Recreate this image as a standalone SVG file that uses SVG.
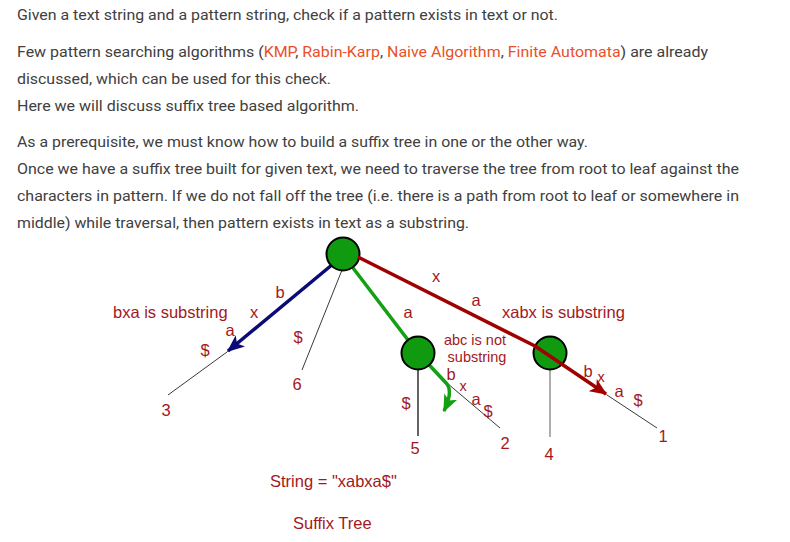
<svg xmlns="http://www.w3.org/2000/svg" width="790" height="542" viewBox="0 0 790 542">
<defs>
<style>
.p{font-family:Roboto,"Liberation Sans",sans-serif;font-size:15.5px;fill:#404040}
.lk{fill:#e8502a}
.l{font-family:"Liberation Sans",Arial,sans-serif;font-size:16.5px;fill:#a3181c}
.s{font-size:14.5px}
.m{text-anchor:middle}
.thin{stroke:#222;stroke-width:0.9;fill:none}
.node{fill:#109a10;stroke:#000;stroke-width:2}
</style>
<marker id="ab" viewBox="0 0 12 10" refX="11" refY="5" markerWidth="5" markerHeight="4.2" markerUnits="strokeWidth" orient="auto"><path d="M0,0 L12,5 L0,10 L3,5 z" fill="#0b0b78"/></marker>
<marker id="ar" viewBox="0 0 12 10" refX="11" refY="5" markerWidth="5" markerHeight="4.2" markerUnits="strokeWidth" orient="auto"><path d="M0,0 L12,5 L0,10 L3,5 z" fill="#a00000"/></marker>
<marker id="ag" viewBox="0 0 12 10" refX="11" refY="5" markerWidth="5" markerHeight="4.2" markerUnits="strokeWidth" orient="auto"><path d="M0,0 L12,5 L0,10 L3,5 z" fill="#13a013"/></marker>
</defs>
<rect width="790" height="542" fill="#fff"/>
<g id="text">
<text class="p" x="17" y="20" textLength="541" lengthAdjust="spacingAndGlyphs">Given a text string and a pattern string, check if a pattern exists in text or not.</text>
<text class="p" x="17" y="57" textLength="691" lengthAdjust="spacingAndGlyphs">Few pattern searching algorithms (<tspan class="lk">KMP</tspan>, <tspan class="lk">Rabin-Karp</tspan>, <tspan class="lk">Naive Algorithm</tspan>, <tspan class="lk">Finite Automata</tspan>) are already</text>
<text class="p" x="17" y="84" textLength="314" lengthAdjust="spacingAndGlyphs">discussed, which can be used for this check.</text>
<text class="p" x="17" y="111" textLength="342" lengthAdjust="spacingAndGlyphs">Here we will discuss suffix tree based algorithm.</text>
<text class="p" x="17" y="147" textLength="571" lengthAdjust="spacingAndGlyphs">As a prerequisite, we must know how to build a suffix tree in one or the other way.</text>
<text class="p" x="17" y="174" textLength="722" lengthAdjust="spacingAndGlyphs">Once we have a suffix tree built for given text, we need to traverse the tree from root to leaf against the</text>
<text class="p" x="17" y="201" textLength="722" lengthAdjust="spacingAndGlyphs">characters in pattern. If we do not fall off the tree (i.e. there is a path from root to leaf or somewhere in</text>
<text class="p" x="17" y="228" textLength="452" lengthAdjust="spacingAndGlyphs">middle) while traversal, then pattern exists in text as a substring.</text>
</g>
<g id="connectors">
<line class="thin" x1="342" y1="270" x2="302" y2="370"/>
<line class="thin" x1="227" y1="352" x2="168" y2="395"/>
<line class="thin" x1="447" y1="383" x2="500" y2="428"/>
<line class="thin" x1="607" y1="395" x2="657" y2="428"/>
<line x1="418" y1="368" x2="418" y2="436" stroke="#111" stroke-width="1.3"/>
<line x1="550" y1="368" x2="550" y2="437" stroke="#999" stroke-width="1.6"/>
<line x1="333" y1="264" x2="228" y2="351" stroke="#0b0b78" stroke-width="3.5" marker-end="url(#ab)"/>
<path d="M350,264 L418,353 L447,384 Q453,392 444,411" fill="none" stroke="#13a013" stroke-width="3.5" marker-end="url(#ag)"/>
</g>
<g id="n-root"><circle class="node" cx="343" cy="254" r="16.5"/></g>
<g id="n-a"><circle class="node" cx="418" cy="353" r="16.5"/></g>
<g id="n-xa"><circle class="node" cx="550" cy="353" r="16.5"/></g>
<g id="red-path">
<path d="M358,257 L535,346 L606,394" fill="none" stroke="#a00000" stroke-width="3.5" stroke-linejoin="round" marker-end="url(#ar)"/>
</g>
<g id="labels">
<text class="l" x="113" y="318">bxa is substring</text>
<text class="l m" x="280" y="298">b</text>
<text class="l m" x="254" y="318">x</text>
<text class="l m" x="230" y="336">a</text>
<text class="l m" x="205" y="356">$</text>
<text class="l m" x="298" y="343">$</text>
<text class="l m" x="297" y="390">6</text>
<text class="l m" x="166" y="416">3</text>
<text class="l m" x="436" y="282">x</text>
<text class="l m" x="476" y="306">a</text>
<text class="l m" x="408" y="318">a</text>
<text class="l" x="502" y="318">xabx is substring</text>
<text class="l s m" x="475" y="345">abc is not</text>
<text class="l s m" x="477" y="362">substring</text>
<text class="l m" x="451" y="380">b</text>
<text class="l s m" x="463" y="391">x</text>
<text class="l m" x="476" y="405">a</text>
<text class="l m" x="488" y="417">$</text>
<text class="l m" x="406" y="409">$</text>
<text class="l m" x="415" y="454">5</text>
<text class="l m" x="505" y="449">2</text>
<text class="l m" x="549" y="460">4</text>
<text class="l m" x="588" y="377">b</text>
<text class="l s m" x="601" y="382">x</text>
<text class="l m" x="619" y="397">a</text>
<text class="l m" x="638" y="406">$</text>
<text class="l m" x="663" y="442">1</text>
<text class="l" x="270" y="487">String = "xabxa$"</text>
<text class="l" x="293" y="529">Suffix Tree</text>
</g>
</svg>
